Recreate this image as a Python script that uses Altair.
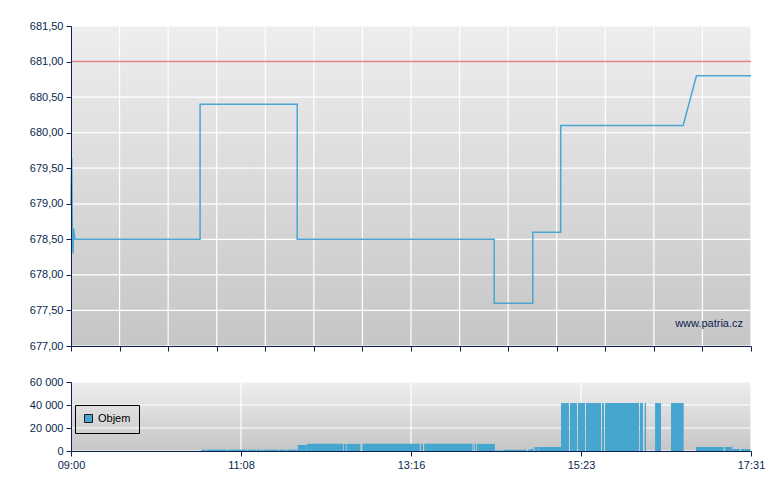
import altair as alt
import pandas as pd

# ---------------- data ----------------
# price: minutes after 09:00 and price (CZK)
price_min = [0, 0.5, 1.0, 1.5, 2.0, 3.0, 97, 97, 170, 170, 318, 318, 347, 347, 368, 368, 460, 470, 511]
price_val = [679.0, 679.65, 678.6, 678.3, 678.65, 678.5, 678.5, 680.4, 680.4, 678.5, 678.5, 677.6,
             677.6, 678.6, 678.6, 680.1, 680.1, 680.8, 680.8]
prev_close = [681.0]

# volume blocks: start minute, end minute, volume
vol_start = [98, 101.8, 117.5, 132.5, 139.3, 143, 145.2, 156.5, 161.8, 170.4, 177.4, 205.1, 207.1, 219,
             262.9, 265.4, 302.4, 303.5, 305.2, 318.8, 324.6, 343.3, 345, 347.6, 348.5, 351.3, 368.2,
             375, 381, 387, 399, 401.3, 427.6, 431.1, 438.9, 450.9, 469.7, 491.3, 496.6, 497, 503.5]
vol_end = [101.3, 117, 132, 138.8, 142.5, 144.7, 156, 161.3, 170.2, 177.2, 204.6, 206.6, 217.5, 262.1,
           264.5, 301.7, 303, 304.6, 318.6, 323.9, 342.5, 345, 347.4, 348, 351, 368.2, 374.2,
           380.3, 386.3, 398.3, 400.5, 426.9, 429.8, 432.1, 443.4, 460.4, 490.5, 496.6, 497, 502.7, 510.5]
vol_value = [1200, 1200, 1200, 1200, 1200, 1200, 1200, 1200, 1200, 5200, 6200, 6200, 6200, 6200,
             6200, 6200, 6200, 6200, 6200, 600, 1100, 1100, 1800, 3500, 3500, 3500, 41700,
             41700, 41700, 41700, 41700, 41700, 41700, 41700, 41700, 41700, 3500, 3500, 5200, 1700, 1700]
series_name = "Objem"

price_ticks = [677.0, 677.5, 678.0, 678.5, 679.0, 679.5, 680.0, 680.5, 681.0, 681.5]
vol_ticks = [0, 20000, 40000, 60000]
time_tick_pos = [0, 127.75, 255.5, 383.25, 511]
time_tick_labels = ["09:00", "11:08", "13:16", "15:23", "17:31"]
top_grid_pos = [i * 511 / 14 for i in range(15)]
watermark = "www.patria.cz"

# ---------------- styling ----------------
NAVY = "#0b1f4f"
FONT = "Liberation Sans"
W = 680
bg = alt.LinearGradient(gradient="linear", x1=0, x2=0, y1=0, y2=1,
                        stops=[alt.GradientStop(color="#eeeeee", offset=0),
                               alt.GradientStop(color="#c6c6c6", offset=1)])

price_df = pd.DataFrame({"t": price_min, "p": price_val, "i": list(range(len(price_min)))})
vol_df = pd.DataFrame({"t0": vol_start, "t1": vol_end, "v": vol_value, "s": series_name})

xscale = alt.Scale(domain=[0, 511], nice=False, zero=False)
yscale_p = alt.Scale(domain=[677, 681.5], nice=False, zero=False)
yscale_v = alt.Scale(domain=[0, 60000], nice=False)

x_top_axis = alt.Axis(values=top_grid_pos, labels=False, ticks=True, tickSize=5, grid=False,
                      title=None, domainColor=NAVY, tickColor=NAVY, zindex=1, minExtent=0)
y_top_axis = alt.Axis(values=price_ticks, grid=False, title=None, tickSize=5, labelPadding=3,
                      labelExpr="replace(format(datum.value, '.2f'), '.', ',')",
                      domainColor=NAVY, tickColor=NAVY, zindex=1, minExtent=45, maxExtent=45)
label_expr_x = "[" + ",".join("'%s'" % s for s in time_tick_labels) + "][indexof([" + \
    ",".join(str(v) for v in time_tick_pos) + "], datum.value)]"
x_bot_axis = alt.Axis(values=time_tick_pos, grid=False, title=None, tickSize=5, labelPadding=3,
                      labelExpr=label_expr_x, labelFlush=False, labelOverlap=False,
                      domainColor=NAVY, tickColor=NAVY, zindex=1)
y_bot_axis = alt.Axis(values=vol_ticks, grid=False, title=None, tickSize=5, labelPadding=3,
                      labelExpr="replace(format(datum.value, ','), ',', ' ')",
                      domainColor=NAVY, tickColor=NAVY, zindex=1, minExtent=45, maxExtent=45)

# ---------------- top panel ----------------
bg_top = alt.Chart(alt.Data(values=[{}])).mark_rect(fill=bg).encode(
    x=alt.value(0), x2=alt.value("width"), y=alt.value(0), y2=alt.value("height"))
vgrid_top = alt.Chart(pd.DataFrame({"t": top_grid_pos})).mark_rule(color="white", strokeWidth=1.2).encode(
    x=alt.X("t:Q", scale=xscale, axis=x_top_axis))
hgrid_top = alt.Chart(pd.DataFrame({"p": price_ticks})).mark_rule(color="white", strokeWidth=1.2).encode(
    y=alt.Y("p:Q", scale=yscale_p, axis=y_top_axis))
ref_line = alt.Chart(pd.DataFrame({"p": prev_close})).mark_rule(color="#d95050", strokeWidth=1.6, opacity=0.7).encode(
    y=alt.Y("p:Q", scale=yscale_p, axis=y_top_axis))
line = alt.Chart(price_df).mark_line(color="#4aa6d2", strokeWidth=1.5).encode(
    x=alt.X("t:Q", scale=xscale, axis=x_top_axis),
    y=alt.Y("p:Q", scale=yscale_p, axis=y_top_axis),
    order="i:Q")
wm = alt.Chart(alt.Data(values=[{"w": watermark}])).mark_text(
    align="right", baseline="alphabetic", font=FONT, fontSize=11, color=NAVY).encode(
    x=alt.value(672), y=alt.value(301), text="w:N")

top = alt.layer(bg_top, vgrid_top, hgrid_top, ref_line, line, wm).properties(width=W, height=320)

# ---------------- bottom panel ----------------
bg_bot = alt.Chart(alt.Data(values=[{}])).mark_rect(fill=bg).encode(
    x=alt.value(0), x2=alt.value("width"), y=alt.value(0), y2=alt.value("height"))
vgrid_bot = alt.Chart(pd.DataFrame({"t": time_tick_pos})).mark_rule(color="white", strokeWidth=1.2).encode(
    x=alt.X("t:Q", scale=xscale, axis=x_bot_axis))
hgrid_bot = alt.Chart(pd.DataFrame({"v": vol_ticks})).mark_rule(color="white", strokeWidth=1.2).encode(
    y=alt.Y("v:Q", scale=yscale_v, axis=y_bot_axis))
bars = alt.Chart(vol_df).mark_rect().encode(
    x=alt.X("t0:Q", scale=xscale, axis=x_bot_axis), x2="t1:Q",
    y=alt.Y("v:Q", scale=yscale_v, axis=y_bot_axis), y2=alt.datum(0),
    color=alt.Color("s:N", scale=alt.Scale(range=["#46a6cf"]),
                    legend=alt.Legend(title=None, orient="none", legendX=4, legendY=379,
                                      strokeColor="black", padding=8, symbolType="square",
                                      symbolSize=64, symbolStrokeColor="#1a1a1a",
                                      symbolStrokeWidth=1, labelFontSize=11, labelColor="black",
                                      labelFont=FONT, symbolOpacity=1)))

bottom = alt.layer(bg_bot, vgrid_bot, hgrid_bot, bars).properties(width=W, height=69)

chart = alt.vconcat(top, bottom, spacing=24).properties(
    padding={"left": 18, "top": 12, "right": 5, "bottom": 5}
).configure_view(stroke=None).configure_axis(
    labelFont=FONT, labelFontSize=11, labelColor=NAVY
)

chart.save("out.html", embed_options={"renderer": "svg", "actions": False})
